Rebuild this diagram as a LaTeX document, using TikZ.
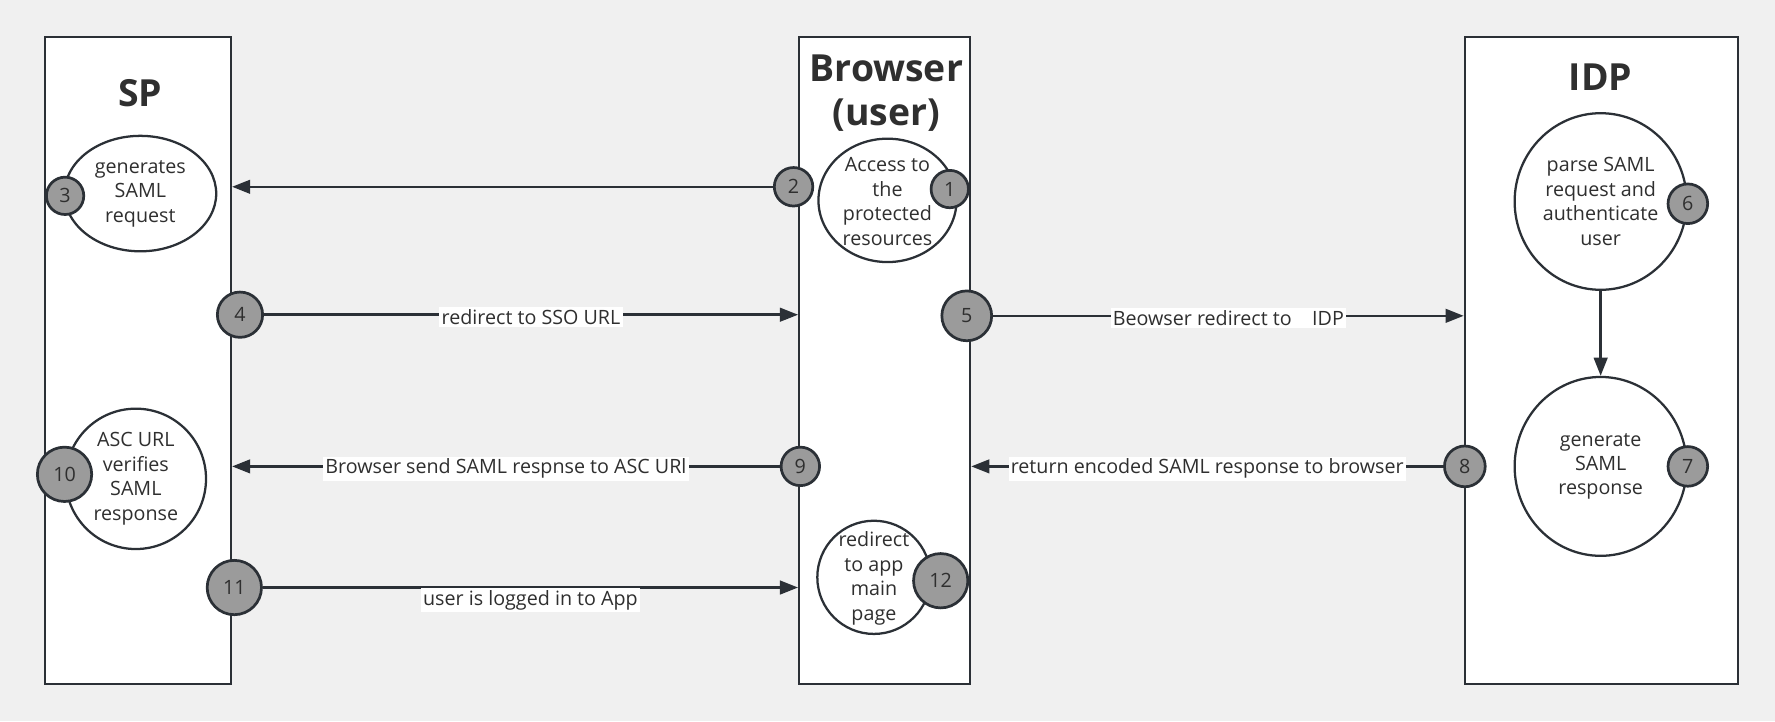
\documentclass[tikz,border=0pt]{standalone}
\usepackage{fontspec}
\setmainfont{Open Sans}
\usetikzlibrary{shapes.geometric,arrows.meta}
\definecolor{bg}{HTML}{F0F0F0}
\definecolor{ln}{HTML}{2B3036}
\definecolor{badgefill}{HTML}{9B9B9B}
\definecolor{tx}{HTML}{2F2F2F}
\begin{document}
\begin{tikzpicture}[x=0.5pt,y=-0.5pt,
  lane/.style={draw=ln, line width=1pt, fill=white, rectangle, inner sep=0pt, minimum width=#1, minimum height=285.5pt},
  ttl/.style={font=\fontsize{16.5}{20}\selectfont\bfseries, text=tx, anchor=base, inner sep=0pt},
  proc/.style={ellipse, draw=ln, line width=1pt, fill=white, inner sep=0pt},
  ptxt/.style={font=\fontsize{8.7}{10.8}\selectfont, text=tx, align=center, inner sep=0pt},
  badge/.style={circle, draw=ln, line width=1.2pt, fill=badgefill, inner sep=0pt, minimum size=#1, font=\fontsize{8.7}{10}\selectfont, text=tx},
  conn/.style={draw=ln, line width=1.1pt, -{Triangle[length=8pt,width=6pt]}},
  lbl/.style={fill=white, inner sep=1pt, font=\fontsize{8.7}{10.8}\selectfont, text=tx}
]
\fill[bg] (0,0) rectangle (1568,637);
\useasboundingbox (0,0) rectangle (1568,637);

% lanes
\node[lane=82pt] (sp) at (122,318.5) {};
\node[lane=75.5pt] (br) at (781.5,318.5) {};
\node[lane=120.5pt] (idp) at (1414.5,318.5) {};

\node[ttl] (spt) at (124,94) {SP};
\node[ttl] (brt1) at (783,72) {Browser};
\node[ttl] (brt2) at (783,111) {(user)};
\node[ttl] (idpt) at (1414,80) {IDP};

% processes
\node[proc, minimum width=67pt, minimum height=51pt] (gen) at (124,171) {};
\node[ptxt] (gent) at (124,171) {generates\\SAML\\request};
\node[proc, minimum width=61pt, minimum height=54.5pt] (acc) at (784,177) {};
\node[ptxt] (acct) at (784,178) {Access to\\the\\protected\\resources};
\node[proc, minimum width=76pt, minimum height=78pt] (parse) at (1414,178) {};
\node[ptxt] (parset) at (1414,178) {parse SAML\\request and\\authenticate\\user};
\node[proc, minimum width=76pt, minimum height=79pt] (gresp) at (1414,412) {};
\node[ptxt] (grespt) at (1414,412) {generate\\SAML\\response};
\node[proc, minimum width=62pt, minimum height=62pt] (asc) at (120,423) {};
\node[ptxt] (asct) at (120,423) {ASC URL\\verifies\\SAML\\response};
\node[proc, minimum width=50pt, minimum height=50pt] (rd) at (772,510) {};
\node[ptxt] (rdt) at (772,511) {redirect\\to app\\main\\page};

% badges
\node[badge=16.5pt] (b1) at (839,167) {1};
\node[badge=17pt] (b2) at (701,165) {2};
\node[badge=16.5pt] (b3) at (57.5,173) {3};
\node[badge=20pt] (b4) at (212,278) {4};
\node[badge=22pt] (b5) at (854,279) {5};
\node[badge=17.5pt] (b6) at (1491,180) {6};
\node[badge=17.5pt] (b7) at (1491,412) {7};
\node[badge=18pt] (b8) at (1294,412) {8};
\node[badge=17pt] (b9) at (707,412) {9};
\node[badge=24pt] (b10) at (57,419) {10};
\node[badge=24pt] (b11) at (207,519) {11};
\node[badge=24pt] (b12) at (831,513) {12};

% connectors
\draw[conn] (b2) -- (sp.east |- b2);
\draw[conn] (b4) -- (br.west |- b4) node[lbl, midway, yshift=-1pt] {redirect to SSO URL};
\draw[conn] (b5) -- (idp.west |- b5) node[lbl, midway, yshift=-1pt] {Beowser redirect to\ \ \ \ IDP};
\draw[conn] (parse) -- (gresp);
\draw[conn] (b8) -- (br.east |- b8) node[lbl, midway, yshift=-1pt] {return encoded SAML response to browser};
\draw[conn] (b9) -- (sp.east |- b9) node[lbl, midway, yshift=-1pt] {Browser send SAML respnse to ASC URl};
\draw[conn] (b11) -- (br.west |- b11) node[lbl, midway, yshift=-5.5pt] {user is logged in to App};
\end{tikzpicture}
\end{document}
